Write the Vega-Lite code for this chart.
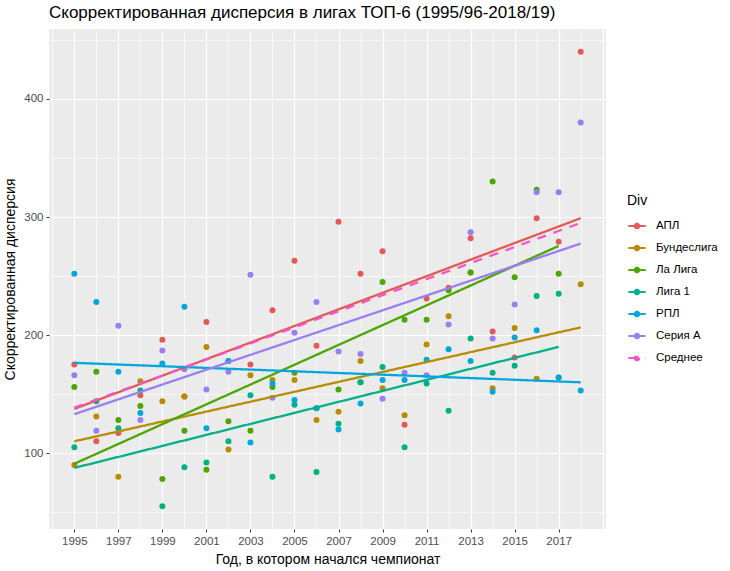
{
  "$schema": "https://vega.github.io/schema/vega-lite/v6.json",
  "width": 557,
  "height": 500,
  "autosize": {"type": "none"},
  "padding": {"left": 49, "top": 29, "right": 124, "bottom": 42},
  "background": "white",
  "config": {
    "view": {"fill": "#EBEBEB", "stroke": null},
    "font": "Liberation Sans"
  },
  "title": {
    "text": "Скорректированная дисперсия в лигах ТОП-6 (1995/96-2018/19)",
    "anchor": "start",
    "frame": "group",
    "fontSize": 17,
    "fontWeight": "normal",
    "color": "black",
    "offset": 7
  },
  "datasets": {
    "pts": [
      {"Div": "АПЛ", "year": 1995, "v": 175}, {"Div": "АПЛ", "year": 1996, "v": 110}, {"Div": "АПЛ", "year": 1997, "v": 117},
      {"Div": "АПЛ", "year": 1998, "v": 149}, {"Div": "АПЛ", "year": 1999, "v": 196}, {"Div": "АПЛ", "year": 2000, "v": 148},
      {"Div": "АПЛ", "year": 2001, "v": 211}, {"Div": "АПЛ", "year": 2002, "v": 178}, {"Div": "АПЛ", "year": 2003, "v": 175},
      {"Div": "АПЛ", "year": 2004, "v": 221}, {"Div": "АПЛ", "year": 2005, "v": 263}, {"Div": "АПЛ", "year": 2006, "v": 191},
      {"Div": "АПЛ", "year": 2007, "v": 296}, {"Div": "АПЛ", "year": 2008, "v": 252}, {"Div": "АПЛ", "year": 2009, "v": 271},
      {"Div": "АПЛ", "year": 2010, "v": 124}, {"Div": "АПЛ", "year": 2011, "v": 231}, {"Div": "АПЛ", "year": 2012, "v": 240},
      {"Div": "АПЛ", "year": 2013, "v": 282}, {"Div": "АПЛ", "year": 2014, "v": 203}, {"Div": "АПЛ", "year": 2015, "v": 181},
      {"Div": "АПЛ", "year": 2016, "v": 299}, {"Div": "АПЛ", "year": 2017, "v": 279}, {"Div": "АПЛ", "year": 2018, "v": 440},

      {"Div": "Бундеслига", "year": 1995, "v": 90}, {"Div": "Бундеслига", "year": 1996, "v": 131}, {"Div": "Бундеслига", "year": 1997, "v": 80},
      {"Div": "Бундеслига", "year": 1998, "v": 161}, {"Div": "Бундеслига", "year": 1999, "v": 144}, {"Div": "Бундеслига", "year": 2000, "v": 148},
      {"Div": "Бундеслига", "year": 2001, "v": 190}, {"Div": "Бундеслига", "year": 2002, "v": 103}, {"Div": "Бундеслига", "year": 2003, "v": 166},
      {"Div": "Бундеслига", "year": 2004, "v": 162}, {"Div": "Бундеслига", "year": 2005, "v": 162}, {"Div": "Бундеслига", "year": 2006, "v": 128},
      {"Div": "Бундеслига", "year": 2007, "v": 135}, {"Div": "Бундеслига", "year": 2008, "v": 178}, {"Div": "Бундеслига", "year": 2009, "v": 155},
      {"Div": "Бундеслига", "year": 2010, "v": 132}, {"Div": "Бундеслига", "year": 2011, "v": 192}, {"Div": "Бундеслига", "year": 2012, "v": 216},
      {"Div": "Бундеслига", "year": 2013, "v": 253}, {"Div": "Бундеслига", "year": 2014, "v": 155}, {"Div": "Бундеслига", "year": 2015, "v": 206},
      {"Div": "Бундеслига", "year": 2016, "v": 163}, {"Div": "Бундеслига", "year": 2017, "v": 164}, {"Div": "Бундеслига", "year": 2018, "v": 243},

      {"Div": "Ла Лига", "year": 1995, "v": 156}, {"Div": "Ла Лига", "year": 1996, "v": 169}, {"Div": "Ла Лига", "year": 1997, "v": 128},
      {"Div": "Ла Лига", "year": 1998, "v": 140}, {"Div": "Ла Лига", "year": 1999, "v": 78}, {"Div": "Ла Лига", "year": 2000, "v": 119},
      {"Div": "Ла Лига", "year": 2001, "v": 86}, {"Div": "Ла Лига", "year": 2002, "v": 127}, {"Div": "Ла Лига", "year": 2003, "v": 119},
      {"Div": "Ла Лига", "year": 2004, "v": 156}, {"Div": "Ла Лига", "year": 2005, "v": 168}, {"Div": "Ла Лига", "year": 2006, "v": 138},
      {"Div": "Ла Лига", "year": 2007, "v": 154}, {"Div": "Ла Лига", "year": 2008, "v": 160}, {"Div": "Ла Лига", "year": 2009, "v": 245},
      {"Div": "Ла Лига", "year": 2010, "v": 213}, {"Div": "Ла Лига", "year": 2011, "v": 213}, {"Div": "Ла Лига", "year": 2012, "v": 238},
      {"Div": "Ла Лига", "year": 2013, "v": 253}, {"Div": "Ла Лига", "year": 2014, "v": 330}, {"Div": "Ла Лига", "year": 2015, "v": 249},
      {"Div": "Ла Лига", "year": 2016, "v": 323}, {"Div": "Ла Лига", "year": 2017, "v": 252},

      {"Div": "Лига 1", "year": 1995, "v": 105}, {"Div": "Лига 1", "year": 1996, "v": 144}, {"Div": "Лига 1", "year": 1997, "v": 121},
      {"Div": "Лига 1", "year": 1998, "v": 153}, {"Div": "Лига 1", "year": 1999, "v": 55}, {"Div": "Лига 1", "year": 2000, "v": 88},
      {"Div": "Лига 1", "year": 2001, "v": 92}, {"Div": "Лига 1", "year": 2002, "v": 110}, {"Div": "Лига 1", "year": 2003, "v": 149},
      {"Div": "Лига 1", "year": 2004, "v": 80}, {"Div": "Лига 1", "year": 2005, "v": 141}, {"Div": "Лига 1", "year": 2006, "v": 84},
      {"Div": "Лига 1", "year": 2007, "v": 125}, {"Div": "Лига 1", "year": 2008, "v": 160}, {"Div": "Лига 1", "year": 2009, "v": 173},
      {"Div": "Лига 1", "year": 2010, "v": 105}, {"Div": "Лига 1", "year": 2011, "v": 159}, {"Div": "Лига 1", "year": 2012, "v": 136},
      {"Div": "Лига 1", "year": 2013, "v": 197}, {"Div": "Лига 1", "year": 2014, "v": 168}, {"Div": "Лига 1", "year": 2015, "v": 174},
      {"Div": "Лига 1", "year": 2016, "v": 233}, {"Div": "Лига 1", "year": 2017, "v": 235},

      {"Div": "РПЛ", "year": 1995, "v": 252}, {"Div": "РПЛ", "year": 1996, "v": 228}, {"Div": "РПЛ", "year": 1997, "v": 169},
      {"Div": "РПЛ", "year": 1998, "v": 134}, {"Div": "РПЛ", "year": 1999, "v": 176}, {"Div": "РПЛ", "year": 2000, "v": 224},
      {"Div": "РПЛ", "year": 2001, "v": 121}, {"Div": "РПЛ", "year": 2002, "v": 178}, {"Div": "РПЛ", "year": 2003, "v": 109},
      {"Div": "РПЛ", "year": 2004, "v": 159}, {"Div": "РПЛ", "year": 2005, "v": 145}, {"Div": "РПЛ", "year": 2006, "v": 138},
      {"Div": "РПЛ", "year": 2007, "v": 120}, {"Div": "РПЛ", "year": 2008, "v": 142}, {"Div": "РПЛ", "year": 2009, "v": 162},
      {"Div": "РПЛ", "year": 2010, "v": 162}, {"Div": "РПЛ", "year": 2011, "v": 179}, {"Div": "РПЛ", "year": 2012, "v": 188},
      {"Div": "РПЛ", "year": 2013, "v": 178}, {"Div": "РПЛ", "year": 2014, "v": 152}, {"Div": "РПЛ", "year": 2015, "v": 198},
      {"Div": "РПЛ", "year": 2016, "v": 204}, {"Div": "РПЛ", "year": 2017, "v": 164}, {"Div": "РПЛ", "year": 2018, "v": 153},

      {"Div": "Серия А", "year": 1995, "v": 166}, {"Div": "Серия А", "year": 1996, "v": 119}, {"Div": "Серия А", "year": 1997, "v": 208},
      {"Div": "Серия А", "year": 1998, "v": 128}, {"Div": "Серия А", "year": 1999, "v": 187}, {"Div": "Серия А", "year": 2000, "v": 171},
      {"Div": "Серия А", "year": 2001, "v": 154}, {"Div": "Серия А", "year": 2002, "v": 169}, {"Div": "Серия А", "year": 2003, "v": 251},
      {"Div": "Серия А", "year": 2004, "v": 147}, {"Div": "Серия А", "year": 2005, "v": 202}, {"Div": "Серия А", "year": 2006, "v": 228},
      {"Div": "Серия А", "year": 2007, "v": 186}, {"Div": "Серия А", "year": 2008, "v": 184}, {"Div": "Серия А", "year": 2009, "v": 146},
      {"Div": "Серия А", "year": 2010, "v": 168}, {"Div": "Серия А", "year": 2011, "v": 166}, {"Div": "Серия А", "year": 2012, "v": 209},
      {"Div": "Серия А", "year": 2013, "v": 287}, {"Div": "Серия А", "year": 2014, "v": 197}, {"Div": "Серия А", "year": 2015, "v": 226},
      {"Div": "Серия А", "year": 2016, "v": 321}, {"Div": "Серия А", "year": 2017, "v": 321}, {"Div": "Серия А", "year": 2018, "v": 380}
    ],
    "fit": [
      {"Div": "АПЛ", "year": 1995, "v": 137.5}, {"Div": "АПЛ", "year": 2018, "v": 299},
      {"Div": "Бундеслига", "year": 1995, "v": 110}, {"Div": "Бундеслига", "year": 2018, "v": 206.5},
      {"Div": "Ла Лига", "year": 1995, "v": 91}, {"Div": "Ла Лига", "year": 2017, "v": 275.5},
      {"Div": "Лига 1", "year": 1995, "v": 87.5}, {"Div": "Лига 1", "year": 2017, "v": 190},
      {"Div": "РПЛ", "year": 1995, "v": 176.5}, {"Div": "РПЛ", "year": 2018, "v": 160},
      {"Div": "Серия А", "year": 1995, "v": 133}, {"Div": "Серия А", "year": 2018, "v": 277.5},
      {"Div": "Среднее", "year": 1995, "v": 138.5}, {"Div": "Среднее", "year": 2018, "v": 295}
    ]
  },
  "encoding": {
    "x": {
      "field": "year", "type": "quantitative",
      "scale": {"domain": [1993.85, 2019.15], "nice": false, "zero": false},
      "axis": {
        "title": "Год, в котором начался чемпионат",
        "titleFontSize": 14, "titleFontWeight": "normal", "titleColor": "black", "titlePadding": 6,
        "values": [1994, 1995, 1996, 1997, 1998, 1999, 2000, 2001, 2002, 2003, 2004, 2005, 2006, 2007, 2008, 2009, 2010, 2011, 2012, 2013, 2014, 2015, 2016, 2017, 2018, 2019],
        "labelExpr": "(datum.value % 2 == 1 && datum.value < 2018) ? datum.value : ''",
        "labelFontSize": 11.5, "labelColor": "#4D4D4D", "labelPadding": 3, "labelFlush": false, "labelOverlap": false,
        "domain": false,
        "tickSize": 3,
        "tickColor": {"condition": {"test": "datum.value % 2 == 0 || datum.value > 2017", "value": "transparent"}, "value": "#333333"},
        "grid": true,
        "gridColor": "white",
        "gridWidth": {"condition": {"test": "datum.value % 2 == 0", "value": 0.6}, "value": 1.2}
      }
    },
    "y": {
      "field": "v", "type": "quantitative",
      "scale": {"domain": [35.75, 459.25], "nice": false, "zero": false},
      "axis": {
        "title": "Скорректированная дисперсия",
        "titleFontSize": 14, "titleFontWeight": "normal", "titleColor": "black", "titlePadding": 6,
        "values": [50, 100, 150, 200, 250, 300, 350, 400, 450],
        "labelExpr": "datum.value % 100 == 0 ? datum.value : ''",
        "labelFontSize": 11.5, "labelColor": "#4D4D4D", "labelPadding": 3, "labelFlush": false, "labelOverlap": false,
        "domain": false,
        "tickSize": 3,
        "tickColor": {"condition": {"test": "datum.value % 100 != 0", "value": "transparent"}, "value": "#333333"},
        "grid": true,
        "gridColor": "white",
        "gridWidth": {"condition": {"test": "datum.value % 100 != 0", "value": 0.6}, "value": 1.2}
      }
    }
  },
  "layer": [
    {
      "data": {"name": "pts"},
      "mark": {"type": "point", "filled": true, "size": 36, "opacity": 1},
      "encoding": {
        "color": {
          "field": "Div", "type": "nominal",
          "scale": {
            "domain": ["АПЛ", "Бундеслига", "Ла Лига", "Лига 1", "РПЛ", "Серия А", "Среднее"],
            "range": ["#E35A55", "#B88C00", "#4CA500", "#00B088", "#00A6DC", "#9A7EF2", "#F256CA"]
          },
          "legend": {
            "orient": "none", "legendX": 578, "legendY": 165,
            "title": "Div", "titleFontSize": 14, "titleFontWeight": "normal", "titleColor": "black", "titlePadding": 8,
            "labelFontSize": 11.5, "labelColor": "black", "labelOffset": 9,
            "symbolType": "M-1,0L1,0M0.26,0A0.26,0.26 0 1,1 -0.26,0A0.26,0.26 0 1,1 0.26,0Z",
            "symbolSize": 300, "symbolStrokeWidth": 2,
            "rowPadding": 5,
            "encode": {
              "symbols": {
                "update": {
                  "stroke": {"scale": "color", "field": "value"},
                  "fill": {"scale": "color", "field": "value"},
                  "opacity": {"value": 1}
                }
              }
            }
          }
        }
      }
    },
    {
      "data": {"name": "fit"},
      "mark": {"type": "line", "strokeWidth": 2.3},
      "encoding": {
        "color": {"field": "Div", "type": "nominal"},
        "strokeDash": {
          "field": "Div", "type": "nominal",
          "scale": {
            "domain": ["АПЛ", "Бундеслига", "Ла Лига", "Лига 1", "РПЛ", "Серия А", "Среднее"],
            "range": [[1, 0], [1, 0], [1, 0], [1, 0], [1, 0], [1, 0], [9, 8]]
          },
          "legend": null
        }
      }
    }
  ]
}
